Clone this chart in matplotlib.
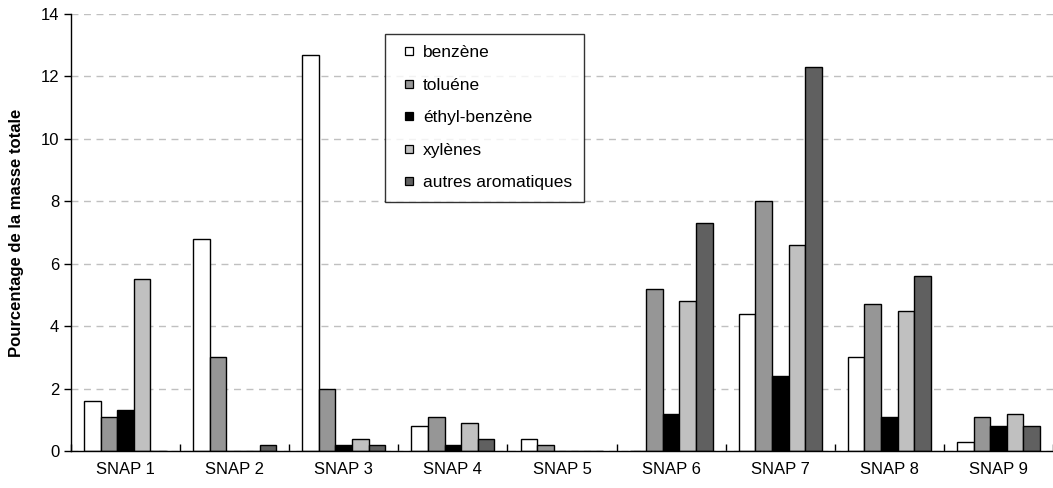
import matplotlib.pyplot as plt
import numpy as np
from matplotlib.lines import Line2D

plt.rcParams["font.family"] = ["Liberation Sans", "DejaVu Sans"]

categories = ["SNAP 1", "SNAP 2", "SNAP 3", "SNAP 4", "SNAP 5",
              "SNAP 6", "SNAP 7", "SNAP 8", "SNAP 9"]
benzene = [1.6, 6.8, 12.7, 0.8, 0.4, 0.0, 4.4, 3.0, 0.3]
toluene = [1.1, 3.0, 2.0, 1.1, 0.2, 5.2, 8.0, 4.7, 1.1]
ethyl_benzene = [1.3, 0.0, 0.2, 0.2, 0.0, 1.2, 2.4, 1.1, 0.8]
xylenes = [5.5, 0.0, 0.4, 0.9, 0.0, 4.8, 6.6, 4.5, 1.2]
autres = [0.0, 0.2, 0.2, 0.4, 0.0, 7.3, 12.3, 5.6, 0.8]

series = [
    ("benzène", benzene, "#ffffff"),
    ("toluéne", toluene, "#969696"),
    ("éthyl-benzène", ethyl_benzene, "#000000"),
    ("xylènes", xylenes, "#c0c0c0"),
    ("autres aromatiques", autres, "#606060"),
]

fig = plt.figure(figsize=(10.53, 4.88), dpi=100)
ax = fig.add_axes([71 / 1053, 37 / 488, 982 / 1053, 437 / 488])

x = np.arange(len(categories))
w = 0.152
handles = []
for i, (name, vals, col) in enumerate(series):
    ax.bar(x + (i - 2) * w, vals, w, color=col, edgecolor="black",
           linewidth=1, zorder=3)
    # small square markers in the legend, like the Excel original
    handles.append(Line2D([], [], linestyle="none", marker="s", markersize=5.5,
                          markerfacecolor=col, markeredgecolor="black",
                          markeredgewidth=0.9, label=name))

ax.set_xlim(-0.5, len(categories) - 0.5)
ax.set_ylim(0, 14)
ax.set_yticks(range(0, 15, 2))
ax.set_xticks(x)
ax.set_xticklabels(categories, fontsize=12)
ax.set_xticks(np.arange(-0.5, len(categories)), minor=True)
ax.tick_params(axis="x", which="major", length=0, pad=8)
ax.tick_params(axis="x", which="minor", length=5, direction="in", width=1)
ax.tick_params(axis="y", labelsize=12, length=5, direction="out", width=1)
ax.yaxis.grid(True, color="#c0c0c0", linestyle=(0, (5, 4)), linewidth=1, zorder=0)
ax.spines["top"].set_visible(False)
ax.spines["right"].set_visible(False)
ax.spines["left"].set_linewidth(1)
ax.spines["bottom"].set_linewidth(1)
ax.spines["bottom"].set_zorder(4)
ax.set_ylabel("Pourcentage de la masse totale", fontsize=12, fontweight="bold",
              labelpad=12)

leg = ax.legend(handles=handles, loc="upper left",
                bbox_to_anchor=(314 / 982, 1 - 20 / 437),
                fontsize=12.5, frameon=True, fancybox=False, labelspacing=1.0,
                handlelength=1.5, handletextpad=0.05,
                borderpad=0.65, borderaxespad=0)
leg.get_frame().set_edgecolor("black")
leg.get_frame().set_linewidth(1)

fig.savefig("out.png", dpi=100)
